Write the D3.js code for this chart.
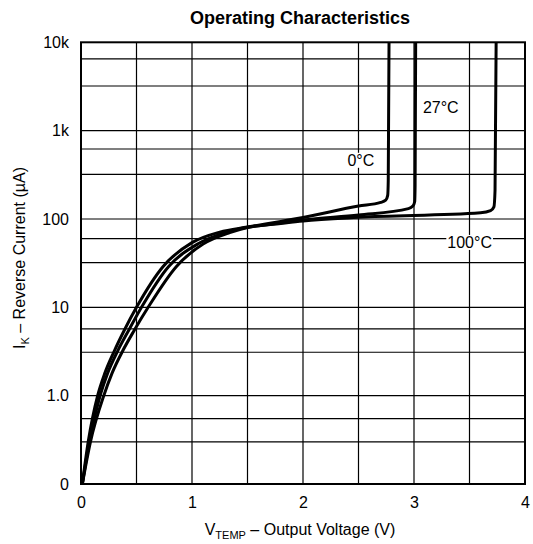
<!DOCTYPE html>
<html>
<head>
<meta charset="utf-8">
<script src="https://cdn.jsdelivr.net/npm/d3@7"></script>
<style>
  html, body { margin: 0; padding: 0; background: #fff; }
  svg text { font-family: "Liberation Sans", Arial, sans-serif; fill: #000; }
</style>
</head>
<body>
<svg id="chart" width="533" height="544"></svg>
<script>
// ---- data ----
const title = "Operating Characteristics";
const xTicks = [0, 1, 2, 3, 4];
const xGrid = [0.5, 1, 1.5, 2, 2.5, 3, 3.5];
const yTicks = [0.1, 1, 10, 100, 1000, 10000];
const yTickLabels = ["0", "1.0", "10", "100", "1k", "10k"];
const yMinorGrid = [0.3, 0.55, 3.1, 5.7, 32, 60, 320, 620, 3200, 6500];

const v0C = [0.012,0.065,0.15,0.215,0.30,0.39,0.50,0.74,1.0,1.25,1.5,1.8,2.0,2.5,2.70,2.745,2.763,2.768,2.775];
const i0C = [0.1,0.3,1.0,1.8,3.2,5.5,10,29,54,71,81,94,104,140,154,163,185,270,10000];

const v27C = [0.012,0.075,0.172,0.24,0.33,0.43,0.545,0.79,1.05,1.3,1.5,1.8,2.0,2.5,2.95,2.99,3.006,3.01,3.015];
const i27C = [0.1,0.3,1.0,1.8,3.2,5.5,10,29,52,70,80.5,90,97.5,111,131,140,157,240,10000];

const v100C = [0.012,0.085,0.205,0.28,0.375,0.48,0.605,0.86,1.1,1.34,1.5,1.8,2.0,2.5,3.6,3.69,3.72,3.73,3.74];
const i100C = [0.1,0.3,1.0,1.8,3.2,5.5,10,29,52,70,80,89,95,104.5,117.5,124,137,210,10000];

const seriesNames = ["0°C", "27°C", "100°C"];
const labelPos = [[2.4, 400], [3.08, 1600], [3.3, 47]]; // [V, µA] anchor of annotation text (start)

// ---- layout ----
const svg = d3.select("#chart");
const L = 81, T = 42.3, R = 525, B = 484;
const x = d3.scaleLinear().domain([0, 4]).range([L, R]);
const y = d3.scaleLog().domain([0.1, 10000]).range([B, T]);

svg.append("text").attr("x", 300).attr("y", 24).attr("text-anchor", "middle")
  .style("font-size", "18px").style("font-weight", "bold").text(title);

const grid = svg.append("g").attr("stroke", "#000").attr("stroke-width", 1.2);
grid.selectAll("line.v").data(xGrid).join("line")
  .attr("x1", d => x(d)).attr("x2", d => x(d)).attr("y1", T).attr("y2", B);
grid.selectAll("line.h").data(yTicks.slice(1, -1).concat(yMinorGrid)).join("line")
  .attr("y1", d => y(d)).attr("y2", d => y(d)).attr("x1", L).attr("x2", R);

// curves
svg.append("clipPath").attr("id", "clip").append("rect")
  .attr("x", L).attr("y", T).attr("width", R - L).attr("height", B - T);
const line = d3.line().x(d => x(d[0])).y(d => y(d[1])).curve(d3.curveMonotoneX);
const series = [
  d3.zip(v0C, i0C), d3.zip(v27C, i27C), d3.zip(v100C, i100C)
];
svg.append("g").attr("clip-path", "url(#clip)").selectAll("path").data(series).join("path")
  .attr("d", line).attr("fill", "none").attr("stroke", "#000").attr("stroke-width", 3)
  .attr("stroke-linejoin", "round");

// annotations with white background
seriesNames.forEach((name, i) => {
  const g = svg.append("g");
  const t = g.append("text").attr("x", x(labelPos[i][0])).attr("y", y(labelPos[i][1]))
    .style("font-size", "16px").text(name);
  const bb = t.node().getBBox();
  g.insert("rect", "text").attr("x", bb.x - 1).attr("y", bb.y + 1)
    .attr("width", bb.width + 2).attr("height", bb.height - 2).attr("fill", "#fff");
});

// frame
svg.append("rect").attr("x", L).attr("y", T).attr("width", R - L).attr("height", B - T)
  .attr("fill", "none").attr("stroke", "#000").attr("stroke-width", 2);

// axes
const xAxis = svg.append("g").attr("transform", `translate(0,${B})`)
  .call(d3.axisBottom(x).tickValues(xTicks).tickSize(0).tickPadding(13).tickFormat(d3.format("d")));
const yAxis = svg.append("g").attr("transform", `translate(${L},0)`)
  .call(d3.axisLeft(y).tickValues(yTicks).tickSize(0).tickPadding(12)
    .tickFormat((d, i) => yTickLabels[i]));
[xAxis, yAxis].forEach(a => {
  a.select(".domain").remove();
  a.selectAll("text").style("font-size", "16px").attr("fill", "#000")
    .style("font-family", '"Liberation Sans", Arial, sans-serif');
});

// axis titles
const xt = svg.append("text").attr("x", 300).attr("y", 535).attr("text-anchor", "middle")
  .style("font-size", "16px");
xt.append("tspan").text("V");
xt.append("tspan").attr("dy", 4).style("font-size", "11px").text("TEMP");
xt.append("tspan").attr("dy", -4).text(" – Output Voltage (V)");

const yt = svg.append("text").attr("transform", "translate(25,258) rotate(-90)")
  .attr("text-anchor", "middle").style("font-size", "16px");
yt.append("tspan").text("I");
yt.append("tspan").attr("dy", 4).style("font-size", "11px").text("K");
yt.append("tspan").attr("dy", -4).text(" – Reverse Current (µA)");
</script>
</body>
</html>
